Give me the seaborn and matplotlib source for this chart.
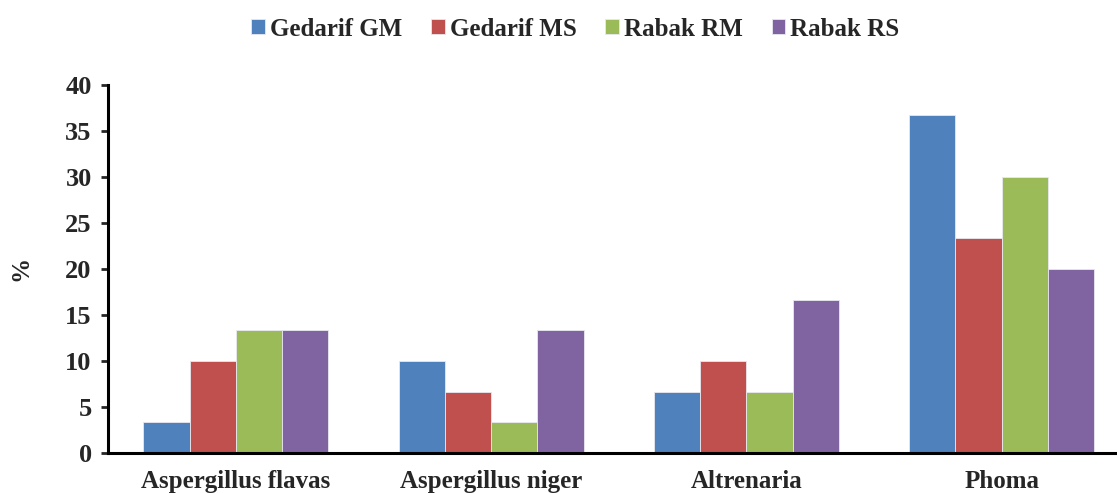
import pandas as pd
import seaborn as sns
import matplotlib.pyplot as plt

categories = ["Aspergillus flavas", "Aspergillus niger", "Altrenaria", "Phoma"]
series = ["Gedarif GM", "Gedarif MS", "Rabak RM", "Rabak RS"]
gedarif_gm = [3.33, 10.0, 6.67, 36.67]
gedarif_ms = [10.0, 6.67, 10.0, 23.33]
rabak_rm = [13.33, 3.33, 6.67, 30.0]
rabak_rs = [13.33, 13.33, 16.67, 20.0]
colors = ["#4F81BD", "#C0504D", "#9BBB59", "#8064A2"]

rows = []
for name, vals in zip(series, [gedarif_gm, gedarif_ms, rabak_rm, rabak_rs]):
    for cat, v in zip(categories, vals):
        rows.append({"Fungus": cat, "Site": name, "Value": v})
df = pd.DataFrame(rows)

sns.set_style("white")
plt.rcParams["font.family"] = ["Liberation Serif", "DejaVu Serif"]
plt.rcParams["font.weight"] = "bold"

fig = plt.figure(figsize=(11.17, 4.93), dpi=100)
ax = fig.add_axes([0.097, 0.081, 0.914, 0.747])

sns.barplot(data=df, x="Fungus", y="Value", hue="Site", order=categories,
            hue_order=series, palette=colors, saturation=1, width=0.725, gap=0,
            edgecolor="#e8e8f0", linewidth=0.6, ax=ax, legend=True)

ax.set_ylim(0, 40)
ax.set_yticks(range(0, 41, 5))
ax.set_xlim(-0.5, 3.5)
ax.set_xlabel("")
ax.set_ylabel("%", fontsize=18, fontweight="bold")
ax.yaxis.set_label_coords(-0.074, 0.5)
for s in ["top", "right"]:
    ax.spines[s].set_visible(False)
for s in ["left", "bottom"]:
    ax.spines[s].set_linewidth(2.2)
    ax.spines[s].set_color("black")
ax.tick_params(axis="y", length=5, width=2, labelsize=19, direction="out", left=True, pad=7)
ax.tick_params(axis="x", length=0, labelsize=18, pad=12)
for lab in ax.get_xticklabels() + ax.get_yticklabels():
    lab.set_fontweight("bold")

handles, labels = ax.get_legend_handles_labels()
ax.legend_.remove()
fig.legend(handles, labels, loc="upper center", bbox_to_anchor=(0.515, 1.01), ncol=4,
           frameon=False, prop={"size": 18, "weight": "bold"},
           handlelength=0.55, handleheight=0.55, handletextpad=0.2, columnspacing=1.15)

fig.savefig("out.png", dpi=100)
